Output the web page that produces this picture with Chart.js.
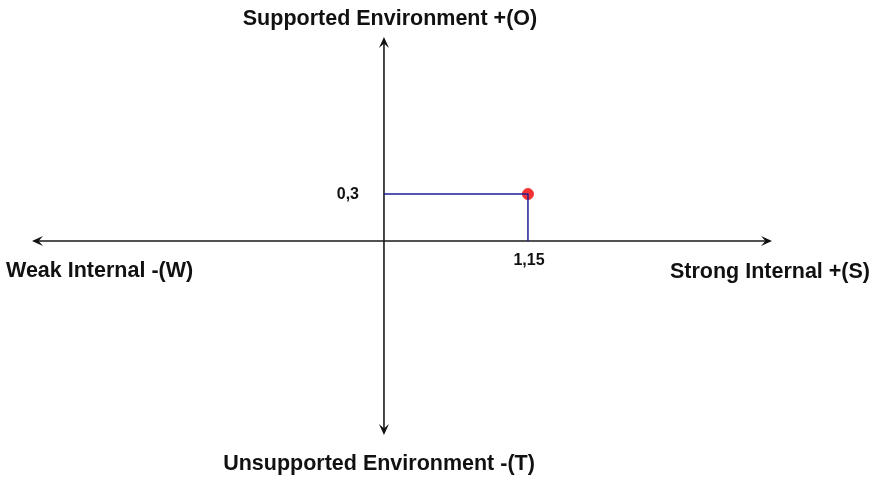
<!DOCTYPE html>
<html>
<head>
<meta charset="utf-8">
<script src="https://cdn.jsdelivr.net/npm/chart.js@4.4.0/dist/chart.umd.min.js"></script>
<style>
  html, body { margin: 0; padding: 0; background: #fff; }
  #wrap { width: 874px; height: 479px; }
</style>
</head>
<body>
<div id="wrap"><canvas id="myChart"></canvas></div>
<script>
// Position of the company on the SWOT grid
const pointX = [1.15];
const pointY = [0.3];
const pointLabels = ['1,15', '0,3'];

// Axis names (right, left, top, bottom)
const axisNames = ['Strong Internal +(S)', 'Weak Internal -(W)', 'Supported Environment +(O)', 'Unsupported Environment -(T)'];

// Axis ranges
const xRange = [-2.811, 3.099];
const yRange = [-1.238, 1.302];

const guidePath = [
    { x: 0, y: pointY[0] },
    { x: pointX[0], y: pointY[0] },
    { x: pointX[0], y: 0 }
];

function arrow(ctx, x, y, dx, dy) {
    const len = 11, w = 5;
    const px = -dy, py = dx;
    ctx.beginPath();
    ctx.moveTo(x, y);
    ctx.lineTo(x - dx * len + px * w, y - dy * len + py * w);
    ctx.lineTo(x - dx * len * 0.6, y - dy * len * 0.6);
    ctx.lineTo(x - dx * len - px * w, y - dy * len - py * w);
    ctx.closePath();
    ctx.fill();
}

const quadrantAxes = {
    id: 'quadrantAxes',
    beforeDatasetsDraw(chart) {
        const ctx = chart.ctx;
        const xs = chart.scales.x, ys = chart.scales.y;
        const x0 = xs.getPixelForValue(0), y0 = ys.getPixelForValue(0);
        const l = xs.getPixelForValue(xRange[0]), r = xs.getPixelForValue(xRange[1]);
        const t = ys.getPixelForValue(yRange[1]), b = ys.getPixelForValue(yRange[0]);
        ctx.save();
        ctx.strokeStyle = '#1a1a1a';
        ctx.fillStyle = '#111';
        ctx.lineWidth = 1.6;
        ctx.beginPath();
        ctx.moveTo(l + 2, y0); ctx.lineTo(r - 2, y0);
        ctx.moveTo(x0, t + 2); ctx.lineTo(x0, b - 2);
        ctx.stroke();
        arrow(ctx, l, y0, -1, 0);
        arrow(ctx, r, y0, 1, 0);
        arrow(ctx, x0, t, 0, -1);
        arrow(ctx, x0, b, 0, 1);
        ctx.restore();
    },
    afterDatasetsDraw(chart) {
        const ctx = chart.ctx;
        const xs = chart.scales.x, ys = chart.scales.y;
        const x0 = xs.getPixelForValue(0), y0 = ys.getPixelForValue(0);
        const px = xs.getPixelForValue(pointX[0]), py = ys.getPixelForValue(pointY[0]);
        ctx.save();
        ctx.fillStyle = '#111';
        ctx.textBaseline = 'middle';
        ctx.font = 'bold 21.5px "Liberation Sans", Arial, sans-serif';
        ctx.textAlign = 'right';
        ctx.fillText(axisNames[0], 870, 272);
        ctx.textAlign = 'left';
        ctx.fillText(axisNames[1], 6, 271);
        ctx.textAlign = 'center';
        ctx.fillText(axisNames[2], 390, 19);
        ctx.fillText(axisNames[3], 379, 464);
        ctx.font = 'bold 16px "Liberation Sans", Arial, sans-serif';
        ctx.textAlign = 'center';
        ctx.fillText(pointLabels[0], px + 1, y0 + 20);
        ctx.textAlign = 'right';
        ctx.fillText(pointLabels[1], x0 - 25, py + 1);
        ctx.restore();
    }
};

const ctx = document.getElementById('myChart').getContext('2d');
const myChart = new Chart(ctx, {
    type: 'scatter',
    data: {
        datasets: [
            {
                type: 'line',
                data: guidePath,
                borderColor: '#1f1f96',
                borderWidth: 1.5,
                pointRadius: 0,
                fill: false,
                tension: 0
            },
            {
                data: pointX.map((x, i) => ({ x: x, y: pointY[i] })),
                backgroundColor: '#f23232',
                borderColor: '#f23232',
                pointRadius: 5.5,
                pointHoverRadius: 5.5
            }
        ]
    },
    options: {
        responsive: true,
        maintainAspectRatio: false,
        animation: false,
        layout: { padding: { left: 32, right: 102, top: 37, bottom: 44 } },
        plugins: { legend: { display: false }, tooltip: { enabled: false } },
        scales: {
            x: { type: 'linear', min: xRange[0], max: xRange[1], display: false },
            y: { type: 'linear', min: yRange[0], max: yRange[1], display: false }
        }
    },
    plugins: [quadrantAxes]
});
</script>
</body>
</html>
